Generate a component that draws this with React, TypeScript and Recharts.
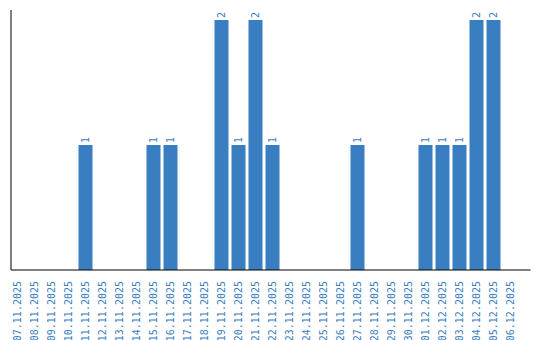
import { BarChart, Bar, XAxis, YAxis, LabelList } from "recharts";

const dates = [
  "07.11.2025", "08.11.2025", "09.11.2025", "10.11.2025", "11.11.2025",
  "12.11.2025", "13.11.2025", "14.11.2025", "15.11.2025", "16.11.2025",
  "17.11.2025", "18.11.2025", "19.11.2025", "20.11.2025", "21.11.2025",
  "22.11.2025", "23.11.2025", "24.11.2025", "25.11.2025", "26.11.2025",
  "27.11.2025", "28.11.2025", "29.11.2025", "30.11.2025", "01.12.2025",
  "02.12.2025", "03.12.2025", "04.12.2025", "05.12.2025", "06.12.2025",
];
const counts = [
  0, 0, 0, 0, 1,
  0, 0, 0, 1, 1,
  0, 0, 2, 1, 2,
  1, 0, 0, 0, 0,
  1, 0, 0, 0, 1,
  1, 1, 2, 2, 0,
];

const data = dates.map((d, i) => ({ date: d, count: counts[i] }));

const BLUE = "#3a7ec2";
const FONT = "'DejaVu Sans Mono', monospace";

const DateTick = (props: any) => {
  const { x, y, payload } = props;
  return (
    <text
      x={x}
      y={y}
      transform={`rotate(-90 ${x} ${y})`}
      textAnchor="end"
      dominantBaseline="central"
      fill={BLUE}
      fontFamily={FONT}
      fontSize={10}
    >
      {payload.value}
    </text>
  );
};

const ValueLabel = (props: any) => {
  const { x, y, width, value } = props;
  if (!value) return null;
  const cx = x + width / 2;
  const cy = y - 2;
  return (
    <text
      x={cx}
      y={cy}
      transform={`rotate(-90 ${cx} ${cy})`}
      textAnchor="start"
      dominantBaseline="central"
      fill={BLUE}
      fontFamily={FONT}
      fontSize={10}
    >
      {value}
    </text>
  );
};

export default function App() {
  return (
    <div style={{ position: "absolute", left: 0, top: 0, background: "#fff" }}>
      <BarChart
        width={540}
        height={340}
        data={data}
        margin={{ top: 10, left: 0, right: 9.5, bottom: 0 }}
        barSize={14}
      >
        <XAxis
          dataKey="date"
          interval={0}
          height={70}
          tickLine={false}
          axisLine={{ stroke: "#000" }}
          tick={<DateTick />}
          tickMargin={5}
          padding={{ left: -2.5, right: 12 }}
        />
        <YAxis
          width={11}
          domain={[0, 2.08]}
          tick={false}
          tickLine={false}
          axisLine={{ stroke: "#000" }}
        />
        <Bar dataKey="count" fill={BLUE} isAnimationActive={false}>
          <LabelList dataKey="count" content={<ValueLabel />} />
        </Bar>
      </BarChart>
    </div>
  );
}
